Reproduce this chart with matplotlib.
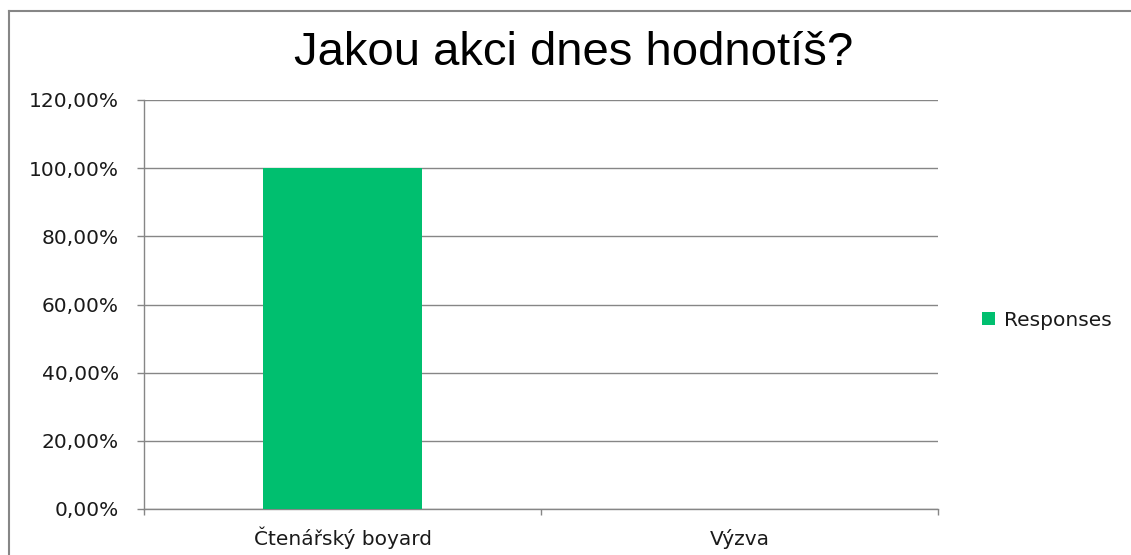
import matplotlib
matplotlib.use("Agg")
import matplotlib.pyplot as plt
from matplotlib.lines import Line2D
from matplotlib.ticker import FuncFormatter, FixedLocator

categories = ["Čtenářský boyard", "Výzva"]
values = [100.0, 0.0]
series_name = "Responses"
title = "Jakou akci dnes hodnotíš?"
yticks = [0, 20, 40, 60, 80, 100, 120]

GREEN = "#00BF6F"
GRAY = "#868686"
TXT = "#1a1a1a"

fig = plt.figure(figsize=(11.31, 5.55), dpi=100)
ax = fig.add_axes([144/1131, 1 - 509/555, (938 - 144)/1131, (509 - 100)/555])

x = list(range(len(categories)))
bars = ax.bar(x, values, width=0.4, color=GREEN, label=series_name, zorder=3)

ax.set_xlim(-0.5, len(categories) - 0.5)
ax.set_ylim(0, 120)
ax.set_yticks(yticks)
ax.yaxis.set_major_formatter(FuncFormatter(lambda v, p: f"{v:.2f}".replace(".", ",") + "%"))
ax.grid(axis="y", color=GRAY, linewidth=1.0, zorder=0)
ax.set_axisbelow(True)

for s in ["top", "right"]:
    ax.spines[s].set_visible(False)
for s in ["left", "bottom"]:
    ax.spines[s].set_color(GRAY)
    ax.spines[s].set_linewidth(1.0)

font = "DejaVu Sans"
FS = 14.5
ax.tick_params(axis="y", length=5, width=1, color=GRAY, pad=13, labelsize=FS, labelcolor=TXT)
for lab in ax.get_yticklabels():
    lab.set_fontfamily(font)

ax.set_xticks(x)
ax.set_xticklabels(categories, fontfamily=font, fontsize=FS, color=TXT, va="baseline")
ax.tick_params(axis="x", which="major", length=0, pad=26)
ax.xaxis.set_minor_locator(FixedLocator([i - 0.5 for i in range(len(categories) + 1)]))
ax.tick_params(axis="x", which="minor", length=4, width=1, color=GRAY)

fig.text(574/1131, 1 - 65/555, title, ha="center", va="baseline",
         fontfamily="Liberation Sans", fontsize=34, color="#000000")

leg = fig.legend(handles=[bars], labels=[series_name], loc="center left",
                 bbox_to_anchor=(964/1131, 1 - 320/555), frameon=False,
                 prop={"family": font, "size": FS}, handlelength=0.65, handleheight=0.65,
                 handletextpad=0.45)
for t in leg.get_texts():
    t.set_color(TXT)

# chart frame border (left and top visible)
fig.add_artist(Line2D([8.5/1131, 8.5/1131], [0, 1 - 10.5/555], transform=fig.transFigure,
                      color=GRAY, linewidth=1.5))
fig.add_artist(Line2D([8.5/1131, 1], [1 - 10.5/555, 1 - 10.5/555], transform=fig.transFigure,
                      color=GRAY, linewidth=1.5))

fig.savefig("out.png", dpi=100)
